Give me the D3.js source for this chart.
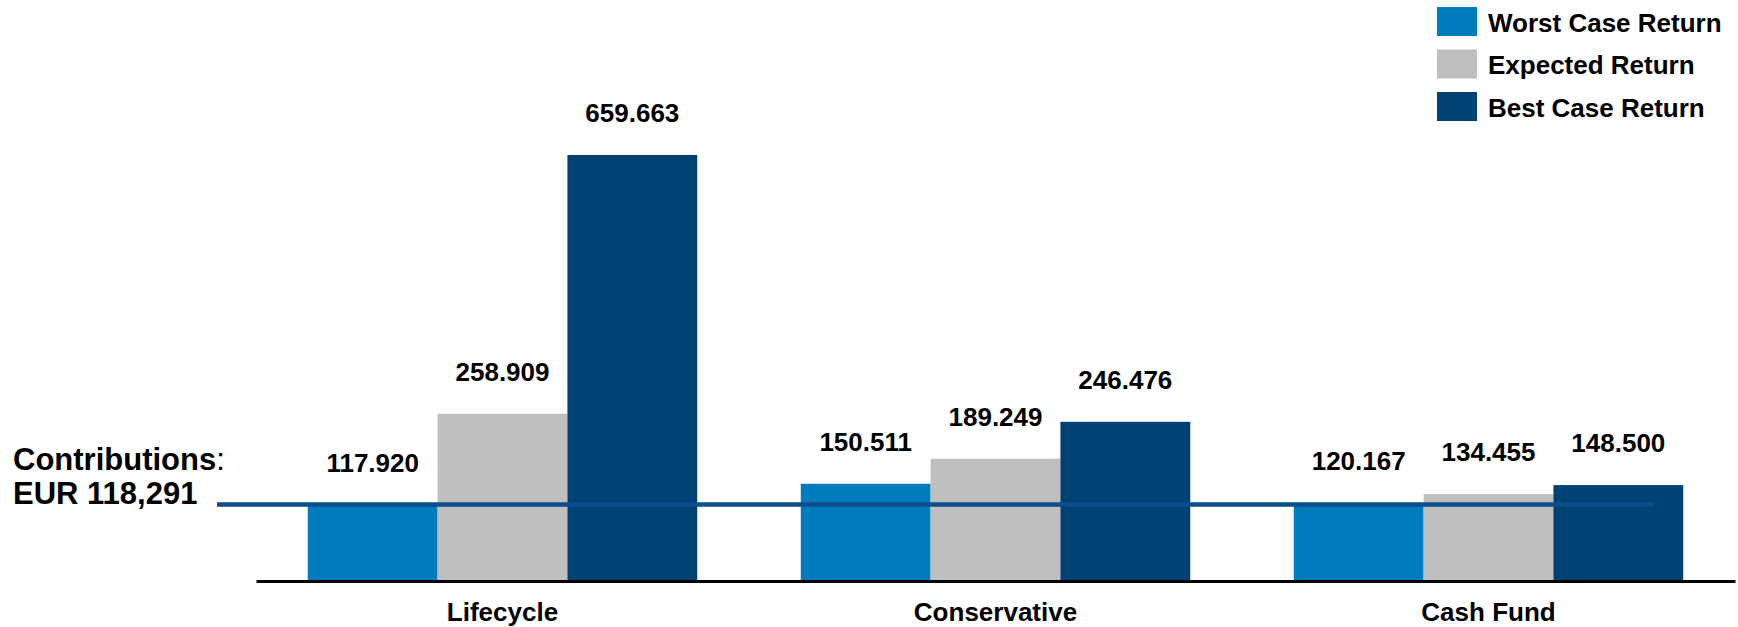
<!DOCTYPE html>
<html>
<head>
<meta charset="utf-8">
<script src="https://cdn.jsdelivr.net/npm/d3@7"></script>
<style>
  html, body { margin: 0; padding: 0; background: #ffffff; }
  svg { display: block; font-family: "Liberation Sans", Arial, Helvetica, sans-serif; }
</style>
</head>
<body>
<svg id="chart" width="1738" height="627"></svg>
<script>
// Portfolio outcome scenarios (EUR thousands)
const categories = ["Lifecycle", "Conservative", "Cash Fund"];
const seriesNames = ["Worst Case Return", "Expected Return", "Best Case Return"];
const worstCase = [117.920, 150.511, 120.167];
const expected = [258.909, 189.249, 134.455];
const bestCase = [659.663, 246.476, 148.500];
const contributions = 118.291;
const contributionLines = ["Contributions:", "EUR 118,291"];
const valueLabels = [
  ["117.920", "258.909", "659.663"],
  ["150.511", "189.249", "246.476"],
  ["120.167", "134.455", "148.500"]
];

const colors = ["#007BC0", "#BFBFBF", "#004173"];
const lineColor = "#0B4E89";

const W = 1738, H = 627;
const plot = { left: 256, right: 1735, top: 155, bottom: 581 };

const svg = d3.select("#chart");

const x0 = d3.scaleBand()
  .domain(categories)
  .range([plot.left, plot.right])
  .paddingInner(0.21)
  .paddingOuter(0.105);

const x1 = d3.scaleBand()
  .domain(seriesNames)
  .range([0, x0.bandwidth()]);

const y = d3.scaleLinear()
  .domain([0, 659.663])
  .range([plot.bottom, plot.top]);

const rows = categories.map((c, i) => ({
  category: c,
  values: [worstCase[i], expected[i], bestCase[i]].map((v, j) => ({
    series: seriesNames[j], value: v, label: valueLabels[i][j], color: colors[j]
  }))
}));

// Bars
const groups = svg.append("g").selectAll("g")
  .data(rows)
  .join("g")
  .attr("transform", d => `translate(${x0(d.category)},0)`);

groups.selectAll("rect")
  .data(d => d.values)
  .join("rect")
  .attr("x", d => x1(d.series))
  .attr("width", x1.bandwidth())
  .attr("y", d => y(d.value))
  .attr("height", d => plot.bottom - y(d.value))
  .attr("fill", d => d.color);

// Value labels above bars
groups.selectAll("text")
  .data(d => d.values)
  .join("text")
  .attr("x", d => x1(d.series) + x1.bandwidth() / 2)
  .attr("y", d => y(d.value) - 33)
  .attr("text-anchor", "middle")
  .attr("font-size", 26)
  .attr("font-weight", "bold")
  .attr("fill", "#000")
  .text(d => d.label);

// Contributions reference line
const cy = y(contributions);
svg.append("line")
  .attr("x1", plot.left - 39)
  .attr("x2", x0("Cash Fund") + x1("Best Case Return") + x1.bandwidth() * 0.77)
  .attr("y1", cy)
  .attr("y2", cy)
  .attr("stroke", lineColor)
  .attr("stroke-width", 4.5);

const cText = svg.append("text")
  .attr("font-size", 31)
  .attr("font-weight", "bold")
  .attr("fill", "#000");
cText.append("tspan").attr("x", 13).attr("y", cy - 35).text(contributionLines[0].slice(0, -1));
cText.append("tspan").attr("font-weight", "normal").text(":");
cText.append("tspan").attr("x", 13).attr("y", cy - 1).text(contributionLines[1]);

// Category axis
const xAxis = d3.axisBottom(x0).tickSize(0).tickPadding(0);
const axisG = svg.append("g")
  .attr("transform", `translate(0,${plot.bottom})`)
  .call(xAxis);
axisG.select(".domain")
  .attr("stroke", "#000")
  .attr("stroke-width", 3);
axisG.selectAll(".tick text")
  .attr("y", 40)
  .attr("dy", 0)
  .attr("font-size", 26)
  .attr("font-weight", "bold")
  .attr("font-family", "'Liberation Sans', Arial, sans-serif")
  .attr("fill", "#000");

// Legend
const legend = svg.append("g").attr("transform", "translate(1437,7)");
const items = legend.selectAll("g")
  .data(seriesNames)
  .join("g")
  .attr("transform", (d, i) => `translate(0,${i * 42.5})`);
items.append("rect")
  .attr("width", 40)
  .attr("height", 29)
  .attr("fill", (d, i) => colors[i]);
items.append("text")
  .attr("x", 51)
  .attr("y", 24.5)
  .attr("font-size", 26)
  .attr("font-weight", "bold")
  .attr("fill", "#000")
  .text(d => d);
</script>
</body>
</html>
